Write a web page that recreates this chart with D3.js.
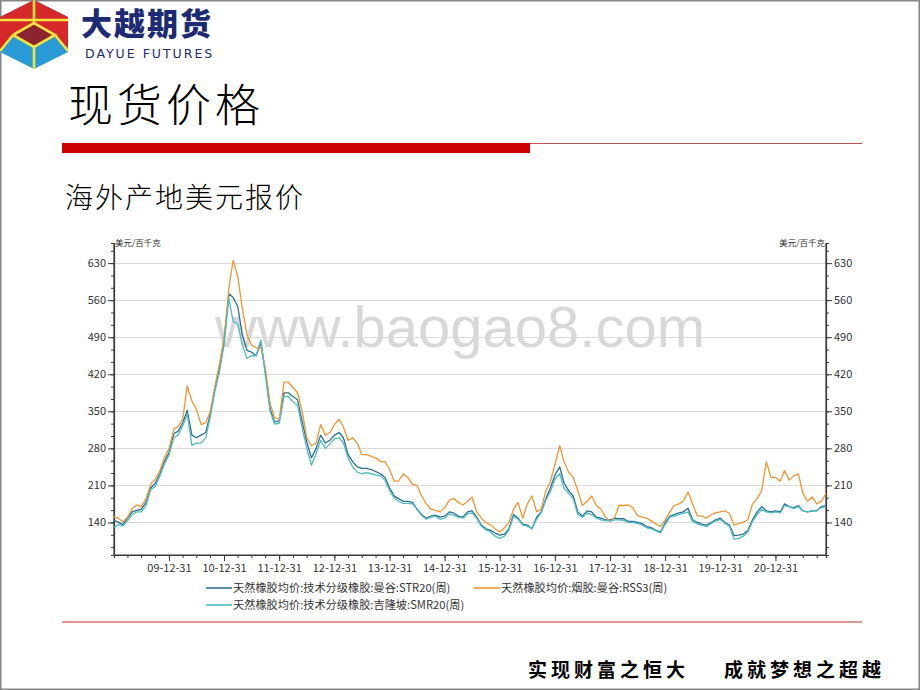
<!DOCTYPE html>
<html><head><meta charset="utf-8">
<script src="https://cdn.jsdelivr.net/npm/d3@7/dist/d3.min.js"></script>
<style>
html,body{margin:0;padding:0;background:#fff;}
svg{display:block;}
text{font-family:"Noto Sans CJK SC","Noto Sans",sans-serif;}
</style></head>
<body>
<svg id="c" width="920" height="690"></svg>
<script>
// ---- DATA (monthly readings, first day of each month, 2009-01 .. 2021-12) ----
const startMonth = new Date(2009, 0, 1);
const endMonth = new Date(2021, 11, 1);
const seriesNames = [
  "天然橡胶均价:技术分级橡胶:曼谷:STR20(周)",
  "天然橡胶均价:烟胶:曼谷:RSS3(周)",
  "天然橡胶均价:技术分级橡胶:吉隆坡:SMR20(周)"
];
const str20 = [
  144,140,136,148,160,163,165,178,205,214,232,255,
  272,308,312,328,352,305,300,305,310,345,393,432,
  485,572,565,548,495,465,462,455,480,425,355,330,
  332,385,385,378,372,330,292,262,280,305,290,295,
  305,310,300,268,255,245,242,242,240,236,232,225,
  205,190,185,180,180,178,165,155,148,152,154,150,
  152,160,158,152,150,160,162,150,135,128,125,120,
  116,118,128,155,148,137,135,128,150,160,185,205,
  230,245,215,200,190,160,152,162,160,150,148,145,
  145,148,147,147,142,142,140,138,132,130,125,122,
  140,152,155,158,160,167,145,140,137,135,140,145,
  148,140,135,115,116,118,125,145,160,170,162,160,
  162,160,175,170,168,172,162,160,162,162,170,172
];
const rss3 = [
  150,148,141,150,166,173,170,185,212,222,238,262,
  280,316,321,335,398,370,354,325,328,350,398,440,
  490,582,635,605,545,495,475,470,470,430,365,338,
  335,405,405,395,385,350,300,285,290,325,305,310,
  325,335,320,295,300,290,268,268,265,262,255,255,
  240,218,218,232,225,212,210,190,175,165,163,160,
  168,182,185,178,173,180,188,160,148,140,135,128,
  122,130,140,165,178,148,175,190,160,165,200,217,
  250,285,255,235,225,200,172,180,190,172,165,150,
  142,150,172,172,173,168,153,150,148,143,137,132,
  145,160,172,175,180,198,175,153,152,148,155,158,
  160,162,157,135,138,140,145,175,185,200,255,225,
  225,218,238,220,228,232,195,180,188,175,180,195
];
const smr20 = [
  130,136,133,143,155,160,160,172,202,208,228,250,
  268,300,305,322,345,286,290,290,300,340,388,425,
  478,564,520,515,475,450,455,455,485,418,350,326,
  327,378,378,368,362,318,280,248,270,295,280,288,
  298,300,290,262,245,235,232,234,232,230,228,220,
  200,186,180,176,176,175,166,153,146,150,152,146,
  148,156,154,150,148,156,158,148,133,126,122,114,
  110,114,125,152,146,135,133,128,146,158,182,198,
  222,232,205,195,185,155,150,158,155,148,145,143,
  143,145,145,144,140,140,138,135,130,128,124,120,
  137,150,152,155,157,160,142,137,135,132,138,143,
  146,138,133,108,110,114,122,142,155,165,160,158,
  160,158,172,170,166,170,162,160,162,163,168,170
];
const yTickValues = [140,210,280,350,420,490,560,630];
const xTickLabels = ["09-12-31","10-12-31","11-12-31","12-12-31","13-12-31","14-12-31",
                     "15-12-31","16-12-31","17-12-31","18-12-31","19-12-31","20-12-31"];
const unitLabel = "美元/百千克";
const colors = ["#2b6f98","#f39532","#4fbcc0"];

// ---- LAYOUT ----
const svg = d3.select("#c");
const W = 920, H = 690;
const pl = 114, pr = 826, pt = 243, pb = 555;

// slide frame
svg.append("rect").attr("x",0.75).attr("y",0.75).attr("width",W-1.5).attr("height",H-1.5)
  .attr("fill","#fff").attr("stroke","#858585").attr("stroke-width",1.5);

// logo
const logo = svg.append("g");
const hex = [[34,0],[68,17],[68,52],[34,69],[0,52],[0,17]];
const cp = logo.append("clipPath").attr("id","hexclip");
cp.append("polygon").attr("points", hex.map(p=>p.join(",")).join(" "));
const lg = logo.append("g").attr("clip-path","url(#hexclip)");
lg.append("rect").attr("x",0).attr("y",0).attr("width",70).attr("height",70).attr("fill","#2a9ad6");
lg.append("polygon").attr("points","0,0 70,0 70,50 55,35 13,35 0,50").attr("fill","#d6282b");
lg.append("polygon").attr("points","13,35 34,23 55,35 34,47").attr("fill","#8c2430");
function yline(pts){
  lg.append("polyline").attr("points",pts).attr("stroke","#f4e33a").attr("stroke-width",2.6).attr("fill","none");
}
yline("0,20 68,20");
yline("34,0 34,23");
yline("34,47 34,70");
yline("13,35 34,23 55,35 34,47 13,35");
yline("0,51 13,35");
yline("55,35 68,51");
svg.append("text").attr("x",81).attr("y",35).attr("font-size",31).attr("font-weight",900)
  .attr("fill","#1d2a74").attr("letter-spacing",2).text("大越期货");
svg.append("text").attr("x",85).attr("y",58).attr("font-size",12.5).attr("fill","#1d2a74")
  .attr("letter-spacing",2).style("font-family","'DejaVu Sans',sans-serif").text("DAYUE FUTURES");

// title + bar
svg.append("text").attr("x",68).attr("y",122).attr("font-size",45).attr("fill","#000")
  .attr("font-weight",300).attr("letter-spacing",4).text("现货价格");
svg.append("rect").attr("x",62).attr("y",143).attr("width",468).attr("height",10).attr("fill","#cc0000");
svg.append("line").attr("x1",530).attr("x2",862).attr("y1",143.5).attr("y2",143.5)
  .attr("stroke","#c0504d").attr("stroke-width",1.2);
svg.append("text").attr("x",65).attr("y",208).attr("font-size",28).attr("fill","#000")
  .attr("font-weight",300).attr("letter-spacing",2).text("海外产地美元报价");

// ---- CHART ----
const months = d3.timeMonth.range(startMonth, d3.timeMonth.offset(endMonth,1));
const x = d3.scaleTime().domain([startMonth, endMonth]).range([pl, pr]);
const y = d3.scaleLinear().domain([78.5, 668]).range([pb, pt]);
const parseTick = d3.timeParse("%y-%m-%d");
const majorDates = xTickLabels.map(parseTick);

const chart = svg.append("g");
// grid
chart.append("g").selectAll("line").data(yTickValues).join("line")
  .attr("x1",pl).attr("x2",pr).attr("y1",d=>Math.round(y(d))+0.5).attr("y2",d=>Math.round(y(d))+0.5)
  .attr("stroke","#dadada").attr("stroke-width",1.2);

// watermark
chart.append("text").attr("x",460).attr("y",347).attr("text-anchor","middle")
  .attr("font-size",58).attr("fill","#d8d8d8").style("font-family","'Liberation Sans',Arial,sans-serif")
  .text("www.baogao8.com");

// minor ticks values for y
const step = 70/3;
const yMinor = d3.range(140 - 3*step, 668, step).filter(v => v >= 78.5 && v <= 668);

const fmt = d3.timeFormat("%y-%m-%d");
const axL = d3.axisLeft(y).tickValues(yTickValues).tickSize(6).tickPadding(2).tickFormat(d3.format("d"));
const axR = d3.axisRight(y).tickValues(yTickValues).tickSize(6).tickPadding(2).tickFormat(d3.format("d"));
const gL = chart.append("g").attr("transform",`translate(${pl},0)`).call(axL);
const gR = chart.append("g").attr("transform",`translate(${pr},0)`).call(axR);
chart.append("g").attr("transform",`translate(${pl},0)`)
  .call(d3.axisLeft(y).tickValues(yMinor).tickSize(3).tickFormat(""));
chart.append("g").attr("transform",`translate(${pr},0)`)
  .call(d3.axisRight(y).tickValues(yMinor).tickSize(3).tickFormat(""));

// x axis
const quarterTicks = d3.timeMonth.range(new Date(2009,0,1), new Date(2021,11,2), 3)
  .map(d => d3.timeDay.offset(d3.timeMonth.offset(d,3),-1))
  .filter(d => d <= endMonth);
const gB = chart.append("g").attr("transform",`translate(0,${pb})`)
  .call(d3.axisBottom(x).tickValues(majorDates).tickSize(6).tickPadding(3).tickFormat(fmt));
chart.append("g").attr("transform",`translate(0,${pb})`)
  .call(d3.axisBottom(x).tickValues(quarterTicks).tickSize(3).tickFormat(""));

chart.selectAll(".domain").attr("stroke","#3a3a3a").attr("stroke-width",1.2);
chart.selectAll(".tick line").attr("stroke","#3a3a3a");
chart.selectAll(".tick text").attr("fill","#333").attr("font-size",11)
  .style("font-family","'Noto Sans CJK SC',sans-serif");
gL.select(".domain").attr("d",`M0,${pt}V${pb}`);
gR.select(".domain").attr("d",`M0,${pt}V${pb}`);
gB.select(".domain").attr("d",`M${pl},0H${pr}`);

// unit labels
chart.append("text").attr("x",pl+1).attr("y",pt+3).attr("font-size",8.5).attr("fill","#333").text(unitLabel);
chart.append("text").attr("x",pr-1).attr("y",pt+3).attr("font-size",8.5).attr("fill","#333")
  .attr("text-anchor","end").text(unitLabel);

// lines
const seriesData = [str20, rss3, smr20];
const line = d3.line().x((d,i)=>x(months[i])).y(d=>y(d));
[0,1,2].forEach(k=>{
  chart.append("path").datum(seriesData[k]).attr("d",line)
    .attr("fill","none").attr("stroke",colors[k]).attr("stroke-width",1.3).attr("stroke-linejoin","round");
});

// legend
const legendPos = [[206,588],[474,588],[206,605]];
seriesNames.forEach((n,k)=>{
  const [lx,ly] = legendPos[k];
  svg.append("line").attr("x1",lx).attr("x2",lx+26).attr("y1",ly).attr("y2",ly)
    .attr("stroke",colors[k]).attr("stroke-width",1.6);
  svg.append("text").attr("x",lx+27).attr("y",ly+4).attr("font-size",11.2)
    .attr("fill","#333").text(n);
});

// bottom rule + slogan
svg.append("line").attr("x1",62).attr("x2",862).attr("y1",622).attr("y2",622)
  .attr("stroke","#d99694").attr("stroke-width",2.2);
svg.append("text").attr("x",528).attr("y",677).attr("font-size",19).attr("font-weight",600)
  .attr("letter-spacing",4).attr("fill","#000").text("实现财富之恒大");
svg.append("text").attr("x",724).attr("y",677).attr("font-size",19).attr("font-weight",600)
  .attr("letter-spacing",4).attr("fill","#000").text("成就梦想之超越");
</script>
</body></html>
